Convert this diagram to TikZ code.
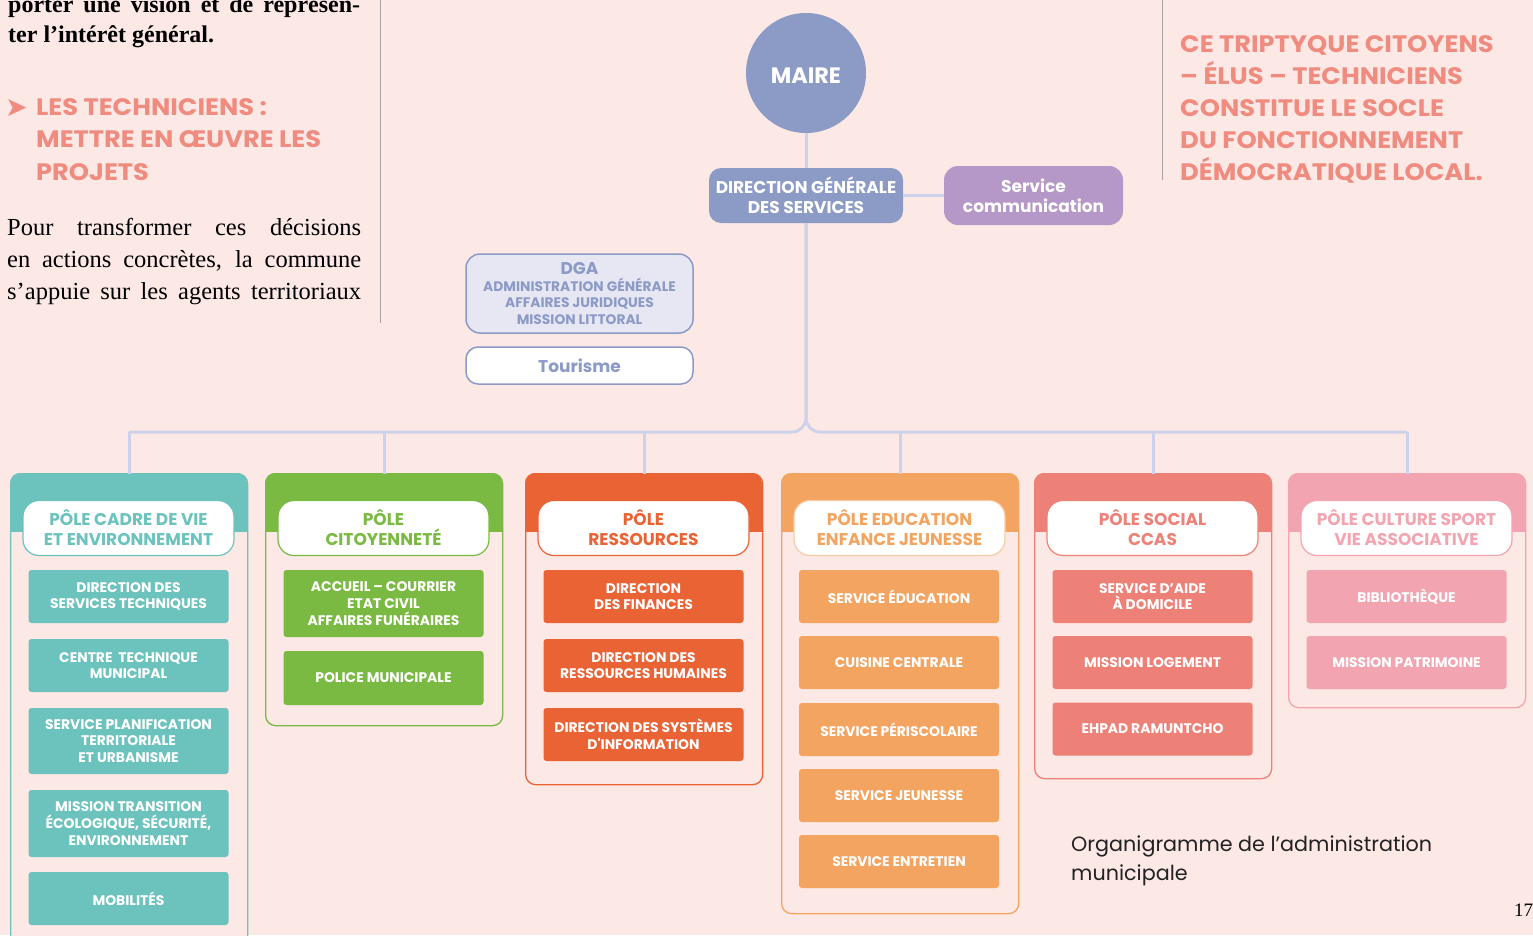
\documentclass[tikz,border=0pt]{standalone}
\usepackage{fontspec}
\setmainfont{Liberation Serif}
\newfontfamily\pop{Poppins}
\newfontfamily\popw{Poppins}[FakeStretch=1.08]
\newfontfamily\dv{DejaVu Sans}
\definecolor{bg}{HTML}{FCE8E5}
\definecolor{lav}{HTML}{8C9AC6}
\definecolor{lavline}{HTML}{CDD2EA}
\definecolor{commc}{HTML}{B698C8}
\definecolor{dgafill}{HTML}{E7E7F3}
\definecolor{teal}{HTML}{6CC3BE}
\definecolor{grn}{HTML}{7AB942}
\definecolor{orng}{HTML}{EA6335}
\definecolor{peach}{HTML}{F4A461}
\definecolor{peachlt}{HTML}{F9CBA5}
\definecolor{salm}{HTML}{EE8177}
\definecolor{pnk}{HTML}{F2A5B1}
\definecolor{head}{HTML}{F08B80}
\definecolor{sepc}{HTML}{A9A1A1}
\definecolor{captc}{HTML}{222222}
\tikzset{
 conn/.style={draw=lavline, line width=3pt},
 sepline/.style={draw=sepc, line width=1pt},
 item/.style={rounded corners=3pt, minimum width=200pt, minimum height=53pt, inner sep=0pt, text=white, align=center, font=\pop\bfseries\fontsize{13.9}{16.7}\selectfont},
 lab/.style={fill=white, rounded corners=16pt, line width=1.2pt, minimum width=211pt, minimum height=55pt, inner sep=0pt, align=center, font=\pop\bfseries\fontsize{17}{20}\selectfont},
 bodyt/.style={anchor=base west, inner sep=0pt, font=\fontsize{24.5}{32}\selectfont},
 headt/.style={anchor=base west, inner sep=0pt, text=head, font=\popw\bfseries\fontsize{23.8}{32}\selectfont},
}
\newcommand\poleframe[6]{%
 \node[draw=#2, line width=1.3pt, fill=bg, rounded corners=10pt, minimum width=237pt, minimum height=#4pt, inner sep=0pt, anchor=north west] (#1) at (#3,473) {};
 \begin{scope}
 \clip (#3-2,470) rectangle (#3+239,531);
 \fill[#2, rounded corners=10pt] (#3,473) rectangle (#3+237,560);
 \end{scope}
 \node[lab, draw=#6, text=#2] (#1l) at (#3+118.5,528) {#5};
}
\begin{document}
\begin{tikzpicture}[x=1pt,y=-1pt]
\useasboundingbox (0,0) rectangle (1533,935);
\fill[bg] (0,0) rectangle (1533,935);

% left column text
\node[anchor=base west, inner sep=0pt, font=\bfseries\fontsize{24}{30}\selectfont] (tA) at (8,12) {\makebox[352pt][s]{porter une vision et de représen-}};
\node[anchor=base west, inner sep=0pt, font=\bfseries\fontsize{24}{30}\selectfont] (tB) at (8,42) {ter l’intérêt général.};
\node[anchor=base west, inner sep=0pt, text=head, font=\dv\fontsize{27}{27}\selectfont] (arr) at (5,116) {➤};
\node[headt] (hL1) at (36,115) {LES TECHNICIENS :};
\node[headt] (hL2) at (36,147.5) {METTRE EN ŒUVRE LES};
\node[headt] (hL3) at (36,180) {PROJETS};
\node[bodyt] (p1) at (7,235) {\makebox[354pt][s]{Pour transformer ces décisions}};
\node[bodyt] (p2) at (7,267) {\makebox[354pt][s]{en actions concrètes, la commune}};
\node[bodyt] (p3) at (7,299) {\makebox[354pt][s]{s’appuie sur les agents territoriaux}};
\draw[sepline] (380,0) -- (380,323);

% right column text
\draw[sepline] (1162,0) -- (1162,180);
\node[headt] (r1) at (1180,52) {CE TRIPTYQUE CITOYENS};
\node[headt] (r2) at (1180,84) {– ÉLUS – TECHNICIENS};
\node[headt] (r3) at (1180,116) {CONSTITUE LE SOCLE};
\node[headt] (r4) at (1180,148) {DU FONCTIONNEMENT};
\node[headt] (r5) at (1180,180) {DÉMOCRATIQUE LOCAL.};

% top of chart
\node[circle, fill=lav, minimum size=120pt, inner sep=0pt] (maire) at (806,73) {};
\node[inner sep=0pt, text=white, font=\pop\bfseries\fontsize{22.3}{22}\selectfont] (mairet) at (806,75.5) {MAIRE};
\node[fill=lav, rounded corners=12pt, minimum width=194pt, minimum height=55pt, inner sep=0pt, text=white, align=center, font=\pop\bfseries\fontsize{17}{20}\selectfont] (dgs) at (806,195.5) {DIRECTION GÉNÉRALE\\DES SERVICES};
\node[fill=commc, rounded corners=14pt, minimum width=179pt, minimum height=59pt, inner sep=0pt, text=white, align=center, font=\pop\bfseries\fontsize{17}{20}\selectfont] (comm) at (1033.5,195.5) {Service\\communication};
\node[fill=dgafill, draw=lav, line width=1.5pt, rounded corners=14pt, minimum width=227pt, minimum height=79pt, inner sep=0pt, text=lav, align=center, font=\pop\bfseries\fontsize{13.8}{16.5}\selectfont] (dga) at (579.5,293.5) {{\fontsize{17}{16.5}\selectfont DGA}\\ADMINISTRATION GÉNÉRALE\\AFFAIRES JURIDIQUES\\MISSION LITTORAL};
\node[fill=white, draw=lav, line width=1.5pt, rounded corners=12pt, minimum width=227pt, minimum height=37pt, inner sep=0pt, text=lav, font=\pop\bfseries\fontsize{17}{20}\selectfont] (tour) at (579.5,365.5) {Tourisme};

% poles
\poleframe{pA}{teal}{10}{480}{PÔLE CADRE DE VIE\\ET ENVIRONNEMENT}{teal}
\poleframe{pB}{grn}{265}{252}{PÔLE\\CITOYENNETÉ}{grn}
\poleframe{pC}{orng}{525}{311}{PÔLE\\RESSOURCES}{orng}
\poleframe{pD}{peach}{781}{440}{PÔLE EDUCATION\\ENFANCE JEUNESSE}{peachlt}
\poleframe{pE}{salm}{1034}{305}{PÔLE SOCIAL\\CCAS}{salm}
\poleframe{pF}{pnk}{1288}{234}{PÔLE CULTURE SPORT\\VIE ASSOCIATIVE}{pnk}

% connectors
\coordinate (J) at (806,432);
\draw[conn] (maire) -- (dgs);
\draw[conn] (dgs) -- (comm);
\draw[conn, rounded corners=14pt] (dgs.south) -- (J) -- (pA.north |- J);
\draw[conn, rounded corners=14pt] (dgs.south) -- (J) -- (pF.north |- J);
\foreach \p in {pA,pB,pC,pD,pE,pF} \draw[conn] (\p.north |- J) -- ([yshift=-0.7pt]\p.north);

% items: pole A
\node[item, fill=teal] (a1) at (128.5,596.5) {DIRECTION DES\\SERVICES TECHNIQUES};
\node[item, fill=teal] (a2) at (128.5,665.5) {CENTRE~ TECHNIQUE\\MUNICIPAL};
\node[item, fill=teal, minimum height=66pt] (a3) at (128.5,741) {SERVICE PLANIFICATION\\TERRITORIALE\\ET URBANISME};
\node[item, fill=teal, minimum height=67pt] (a4) at (128.5,823.5) {MISSION TRANSITION\\ÉCOLOGIQUE, SÉCURITÉ,\\ENVIRONNEMENT};
\node[item, fill=teal] (a5) at (128.5,898.5) {MOBILITÉS};
% pole B
\node[item, fill=grn, minimum height=67pt] (b1) at (383.5,603.5) {ACCUEIL – COURRIER\\ETAT CIVIL\\AFFAIRES FUNÉRAIRES};
\node[item, fill=grn, minimum height=54pt] (b2) at (383.5,678) {POLICE MUNICIPALE};
% pole C
\node[item, fill=orng] (c1) at (643.5,596.5) {DIRECTION\\DES FINANCES};
\node[item, fill=orng] (c2) at (643.5,665.5) {DIRECTION DES\\RESSOURCES HUMAINES};
\node[item, fill=orng] (c3) at (643.5,734.5) {DIRECTION DES SYSTÈMES\\D'INFORMATION};
% pole D
\node[item, fill=peach] (d1) at (899,596.5) {SERVICE ÉDUCATION};
\node[item, fill=peach] (d2) at (899,662.5) {CUISINE CENTRALE};
\node[item, fill=peach] (d3) at (899,729.5) {SERVICE PÉRISCOLAIRE};
\node[item, fill=peach] (d4) at (899,795.5) {SERVICE JEUNESSE};
\node[item, fill=peach] (d5) at (899,861.5) {SERVICE ENTRETIEN};
% pole E
\node[item, fill=salm] (e1) at (1152.5,596.5) {SERVICE D’AIDE\\À DOMICILE};
\node[item, fill=salm] (e2) at (1152.5,662.5) {MISSION LOGEMENT};
\node[item, fill=salm] (e3) at (1152.5,729) {EHPAD RAMUNTCHO};
% pole F
\node[item, fill=pnk] (f1) at (1406.5,596.5) {BIBLIOTHÈQUE};
\node[item, fill=pnk] (f2) at (1406.5,662.5) {MISSION PATRIMOINE};

% caption and page number
\node[anchor=base west, inner sep=0pt, text=captc, font=\pop\fontsize{20.7}{28}\selectfont] (cap1) at (1071,851) {Organigramme de l’administration};
\node[anchor=base west, inner sep=0pt, text=captc, font=\pop\fontsize{20.7}{28}\selectfont] (cap2) at (1071,880) {municipale};
\node[anchor=base west, inner sep=0pt, font=\fontsize{19}{19}\selectfont] (pg) at (1514,916) {17};
\end{tikzpicture}
\end{document}
